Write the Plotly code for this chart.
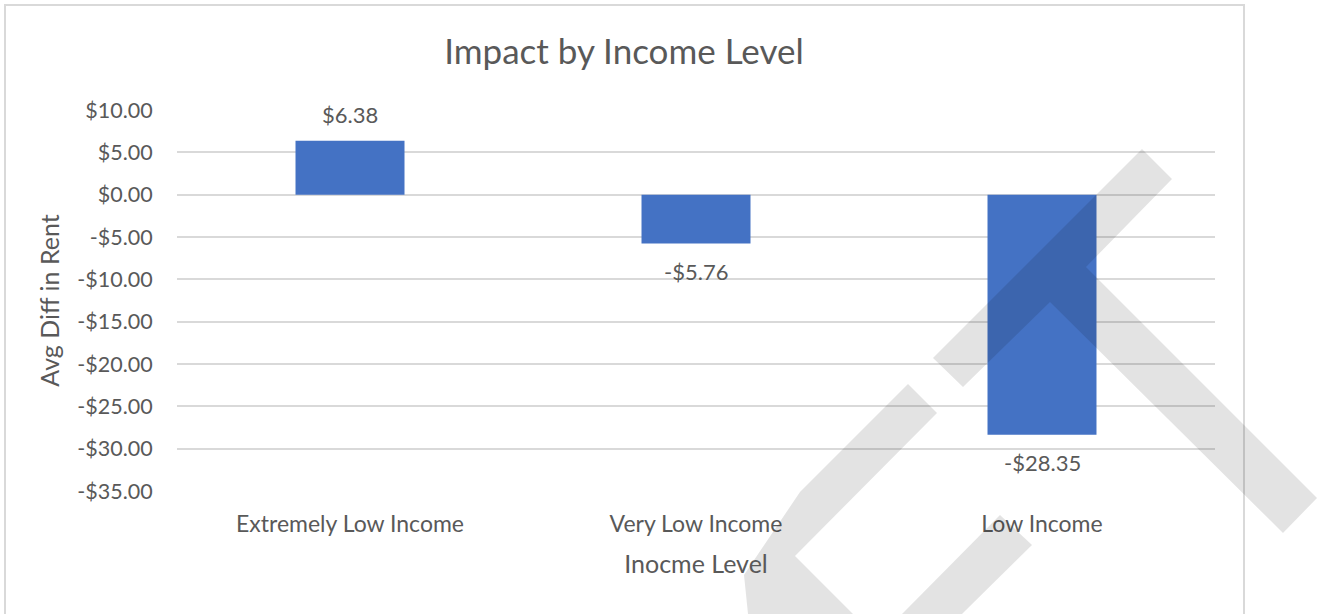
import plotly.graph_objects as go

# Chart data
categories = ["Extremely Low Income", "Very Low Income", "Low Income"]
avg_diff = [6.38, -5.76, -28.35]
y_ticks = [10, 5, 0, -5, -10, -15, -20, -25, -30, -35]


def money(v):
    return ("-$" if v < 0 else "$") + f"{abs(v):.2f}"


W, H = 1319, 614
L, R, T, B = 177, 104, 110, 123
PW, PH = W - L - R, H - T - B

TEXT = "#595959"
GRID = "#d9d9d9"
FONT = "Lato, 'Open Sans', sans-serif"


def px_path(points):
    """Closed SVG path in paper units from pixel points (x right, y down)."""
    parts = []
    for i, (x, y) in enumerate(points):
        xp = (x - L) / PW
        yp = (H - B - y) / PH
        parts.append(("M" if i == 0 else "L") + f"{xp:.5f},{yp:.5f}")
    return " ".join(parts) + " Z"


fig = go.Figure(
    go.Bar(
        x=categories,
        y=avg_diff,
        marker=dict(color="#4472c4", line=dict(width=0)),
        hoverinfo="skip",
    )
)

# Value labels just beyond the end of each bar
annotations = [
    dict(x=c, y=v, xref="x", yref="y", text=money(v), showarrow=False,
         yanchor="middle", yshift=26 if v >= 0 else -28,
         font=dict(size=22, color=TEXT, family=FONT))
    for c, v in zip(categories, avg_diff)
]

# Light grey ribbon marks laid over the chart
ribbons = [
    [(933, 358), (1142, 149), (1172, 179), (1086, 267), (1317, 498),
     (1283, 533), (1050, 302), (963, 387)],
    [(908, 384), (937, 413), (795, 556), (853, 614), (748, 614),
     (744, 575), (800, 492)],
    [(1000, 515), (1032, 545), (962, 614), (902, 614)],
]
shapes = [
    # chart-area border
    dict(type="rect", xref="paper", yref="paper",
         x0=(5 - L) / PW, x1=(1244 - L) / PW,
         y0=(H - B - 640) / PH, y1=(H - B - 5) / PH,
         line=dict(color=GRID, width=2), fillcolor="rgba(0,0,0,0)",
         layer="below"),
]
for pts in ribbons:
    shapes.append(dict(type="path", xref="paper", yref="paper",
                       path=px_path(pts), fillcolor="rgba(0,0,0,0.11)",
                       line=dict(width=0), layer="above"))

fig.update_layout(
    width=W, height=H,
    margin=dict(l=L, r=R, t=T, b=B),
    paper_bgcolor="white", plot_bgcolor="white",
    bargap=0.685,
    showlegend=False,
    title=dict(text="Impact by Income Level", x=(624 - L) / PW,
               xref="paper", xanchor="center", y=1 - 52 / H, yanchor="middle",
               font=dict(size=35, color=TEXT, family=FONT)),
    xaxis=dict(
        showgrid=False, showline=False, zeroline=False,
        ticks="outside", ticklen=12, tickcolor="rgba(0,0,0,0)",
        tickfont=dict(size=23, color=TEXT, family=FONT),
        title=dict(text="Inocme Level", standoff=19,
                   font=dict(size=25, color=TEXT, family=FONT)),
    ),
    yaxis=dict(
        range=[-35, 10],
        tickvals=y_ticks,
        ticktext=[money(v) for v in y_ticks],
        showgrid=True, gridcolor=GRID, gridwidth=1.5,
        zeroline=True, zerolinecolor=GRID, zerolinewidth=1.5,
        showline=False,
        ticks="outside", ticklen=19, tickcolor="rgba(0,0,0,0)",
        tickfont=dict(size=21.5, color=TEXT, family=FONT),
        title=dict(text="Avg Diff in Rent", standoff=10,
                   font=dict(size=25, color=TEXT, family=FONT)),
    ),
    annotations=annotations,
    shapes=shapes,
)

fig.write_html("out.html")
